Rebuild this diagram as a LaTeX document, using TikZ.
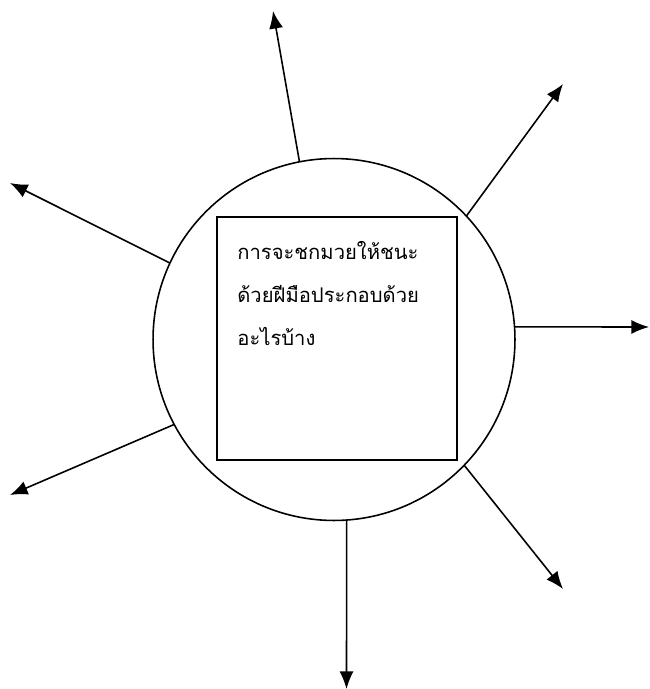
\documentclass[tikz,border=0pt]{standalone}
\usepackage{fontspec}
\newfontfamily\thaifont[Script=Thai]{Loma}
\usepackage{tikz}
\usetikzlibrary{arrows.meta,positioning}

\begin{document}
\begin{tikzpicture}[
  x=0.02cm, y=-0.02cm,
  ring/.style={draw, circle, line width=0.9pt, minimum size=7.24cm, inner sep=0pt, outer sep=0pt},
  qbox/.style={draw, rectangle, line width=0.9pt, minimum width=4.8cm, minimum height=4.86cm,
               inner sep=0pt, outer sep=0pt},
  qtext/.style={align=left, inner sep=0pt, font=\thaifont\fontsize{11.5}{24.5}\selectfont},
  arr/.style={-{Latex[length=10pt,width=8pt]}, line width=0.9pt}
]
\useasboundingbox (0,0) rectangle (649,689);

\node[ring] (circ) at (334,339.5) {};
\node[qbox] (sq) at (337,338.5) {};
\node[qtext, below right=0.48cm and 0.4cm of sq.north west] (question)
  {การจะชกมวยให้ชนะ\\ด้วยฝีมือประกอบด้วย\\อะไรบ้าง};

% free ends of the arrows
\coordinate (tipN)  at (273,11);
\coordinate (tipNE) at (563,84);
\coordinate (tipE)  at (649,327);
\coordinate (tipSE) at (563,589);
\coordinate (tipS)  at (346.5,689);
\coordinate (tipSW) at (10,495);
\coordinate (tipNW) at (10,183);

\draw[arr] (circ.101.7) -- (tipN);
\draw[arr] (circ.43.6)  -- (tipNE);
\draw[arr] (circ.4)     -- (tipE);
\draw[arr] (circ.-44.3) -- (tipSE);
\draw[arr] (circ.-86)   -- (tipS);
\draw[arr] (circ.208.8) -- (tipSW);
\draw[arr] (circ.155.2) -- (tipNW);

\end{tikzpicture}
\end{document}
